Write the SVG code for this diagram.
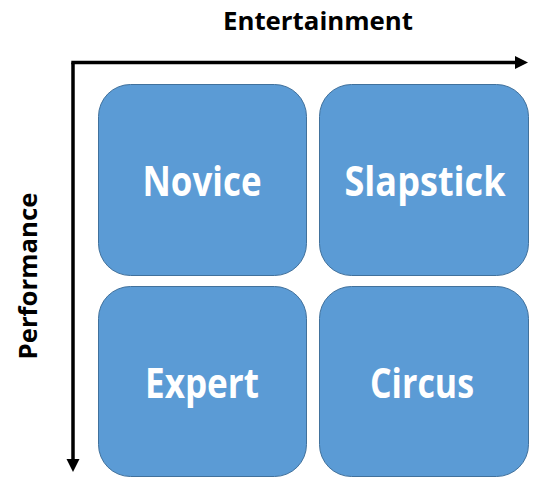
<svg xmlns="http://www.w3.org/2000/svg" width="552" height="502" viewBox="0 0 552 502">
<defs>
<style>
.box{fill:#5B9BD5;stroke:#41719C;stroke-width:1}
.lbl{font-family:"Open Sans","Noto Sans","DejaVu Sans",sans-serif;font-weight:bold;font-size:42px;fill:#FFFFFF;text-anchor:middle}
.axis{font-family:"Open Sans","Noto Sans","DejaVu Sans",sans-serif;font-weight:bold;font-size:25px;fill:#000000;text-anchor:middle}
.ax{stroke:#000;stroke-width:3.5;fill:none}
</style>
</defs>
<rect width="552" height="502" fill="#FFFFFF"/>
<g id="connectors">
<path class="ax" d="M71.3,62.5 L516,62.5"/>
<path class="ax" d="M73,62.5 L73,460"/>
<path d="M515,56 L528,62.5 L515,69 Z" fill="#000"/>
<path d="M66.5,459 L73,472 L79.5,459 Z" fill="#000"/>
</g>
<g id="axis-entertainment"><text class="axis" x="318" y="30" textLength="190" lengthAdjust="spacingAndGlyphs">Entertainment</text></g>
<g id="axis-performance"><text class="axis" transform="translate(37,276) rotate(-90)" x="0" y="0" textLength="167" lengthAdjust="spacingAndGlyphs">Performance</text></g>
<g id="novice">
<rect class="box" x="98.5" y="84.5" width="208" height="191" rx="32" ry="32"/>
<text class="lbl" x="202" y="196" textLength="119" lengthAdjust="spacingAndGlyphs">Novice</text>
</g>
<g id="slapstick">
<rect class="box" x="319.5" y="84.5" width="209" height="191" rx="32" ry="32"/>
<text class="lbl" x="425" y="196" textLength="161" lengthAdjust="spacingAndGlyphs">Slapstick</text>
</g>
<g id="expert">
<rect class="box" x="98.5" y="286.5" width="208" height="190" rx="32" ry="32"/>
<text class="lbl" x="202" y="398" textLength="114" lengthAdjust="spacingAndGlyphs">Expert</text>
</g>
<g id="circus">
<rect class="box" x="319.5" y="286.5" width="209" height="190" rx="32" ry="32"/>
<text class="lbl" x="422" y="398" textLength="104" lengthAdjust="spacingAndGlyphs">Circus</text>
</g>
</svg>
